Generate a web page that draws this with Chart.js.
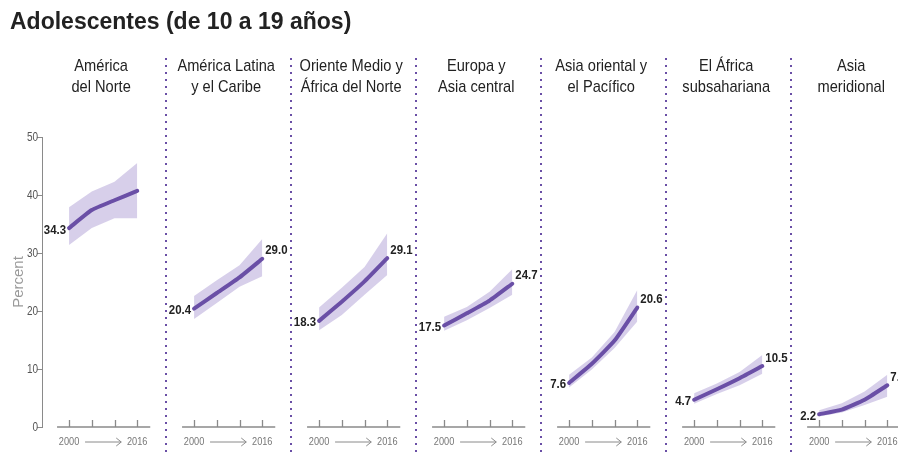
<!DOCTYPE html>
<html>
<head>
<meta charset="utf-8">
<script src="https://cdn.jsdelivr.net/npm/chart.js@4"></script>
<style>
  html, body { margin: 0; padding: 0; background: #fff; }
  #wrap { width: 898px; height: 454px; }
</style>
</head>
<body>
<div id="wrap"><canvas id="chart" width="898" height="454"></canvas></div>
<script>
const chartTitle = "Adolescentes (de 10 a 19 años)";
const regions = [
    "América\ndel Norte",
    "América Latina\ny el Caribe",
    "Oriente Medio y\nÁfrica del Norte",
    "Europa y\nAsia central",
    "Asia oriental y\nel Pacífico",
    "El África\nsubsahariana",
    "Asia\nmeridional"
];
const yearLabels = ["2000", "2016"];
const yTicks = [0, 10, 20, 30, 40, 50];

// 4 points per region, 2000 -> 2016
const rate = [
    [34.3, 37.4, 39.1, 40.7],
    [20.4, 23.1, 25.8, 29.0],
    [18.3, 21.6, 25.1, 29.1],
    [17.5, 19.6, 21.8, 24.7],
    [7.6, 10.9, 14.9, 20.6],
    [4.7, 6.5, 8.4, 10.5],
    [2.2, 3.0, 4.7, 7.2]
];
const upper = [
    [37.9, 40.6, 42.3, 45.5],
    [22.6, 25.3, 27.9, 32.4],
    [20.6, 24.0, 27.6, 33.4],
    [19.0, 20.7, 23.3, 27.2],
    [9.0, 12.0, 16.4, 23.6],
    [5.8, 7.5, 9.5, 12.4],
    [2.9, 4.1, 6.1, 9.0]
];
const lower = [
    [31.4, 34.3, 36.0, 36.0],
    [18.6, 21.4, 24.2, 26.0],
    [16.7, 19.3, 22.8, 26.2],
    [16.6, 18.4, 20.5, 22.8],
    [6.8, 9.9, 13.6, 18.2],
    [4.0, 5.7, 7.2, 9.2],
    [1.8, 2.5, 3.8, 5.2]
];
const showEndLabel = [false, true, true, true, true, true, true];

const SANS = '"Liberation Sans", Arial, sans-serif';
const PURPLE = "#6a4fa6";
const BAND = "rgba(150,130,200,0.38)";
const GREY = "#8a8a8a";

const panelStep = 5.5;           // x units between panels
const xMin = -1.19, xMax = 36.47;

const toPoints = (vals, p) => vals.map((v, i) => ({ x: p * panelStep + i, y: v }));

// no narrow font installed, so squeeze the text horizontally
function narrowText(ctx, text, x, y, sx) {
    ctx.save();
    ctx.translate(x, y);
    ctx.scale(sx, 1);
    ctx.fillText(text, 0, 0);
    ctx.restore();
}

const datasets = [];
regions.forEach((_, p) => {
    datasets.push({
        data: toPoints(upper[p], p), fill: "+1", backgroundColor: BAND,
        borderWidth: 0, pointRadius: 0, tension: 0, order: 2
    });
    datasets.push({
        data: toPoints(lower[p], p), fill: false,
        borderWidth: 0, pointRadius: 0, tension: 0, order: 2
    });
    datasets.push({
        data: toPoints(rate[p], p), fill: false, borderColor: PURPLE,
        borderWidth: 4, borderCapStyle: "round", pointRadius: 0,
        tension: 0.15, order: 0
    });
});

const decor = {
    id: "decor",
    beforeDatasetsDraw(chart) {
        const { ctx, scales: { x, y } } = chart;
        ctx.save();
        // dotted separators
        ctx.strokeStyle = PURPLE;
        ctx.lineWidth = 2;
        ctx.setLineDash([2, 5]);
        for (let p = 0; p < regions.length - 1; p++) {
            const sx = Math.round(x.getPixelForValue(p * panelStep + 4.25));
            ctx.beginPath();
            ctx.moveTo(sx, 58);
            ctx.lineTo(sx, 454);
            ctx.stroke();
        }
        ctx.setLineDash([]);

        // y tick labels
        ctx.fillStyle = "#555";
        ctx.font = "13.5px " + SANS;
        ctx.textAlign = "right";
        ctx.textBaseline = "middle";
        y.ticks.forEach((t) => narrowText(ctx, String(t.value), x.left - 4, y.getPixelForValue(t.value), 0.74));

        // per-panel x baseline, ticks and year arrow
        const base = y.getPixelForValue(0);
        regions.forEach((_, p) => {
            const x0 = x.getPixelForValue(p * panelStep);
            const x3 = x.getPixelForValue(p * panelStep + 3);
            ctx.strokeStyle = GREY;
            ctx.lineWidth = 1.3;
            ctx.beginPath();
            ctx.moveTo(x0 - 12, base);
            ctx.lineTo(x3 + 13, base);
            for (let i = 0; i < 4; i++) {
                const tx = Math.round(x.getPixelForValue(p * panelStep + i)) + 0.5;
                ctx.moveTo(tx, base);
                ctx.lineTo(tx, base - 7);
            }
            ctx.stroke();

            ctx.fillStyle = "#777";
            ctx.font = "11.5px " + SANS;
            ctx.textBaseline = "middle";
            ctx.textAlign = "center";
            narrowText(ctx, yearLabels[0], x0, base + 15, 0.8);
            narrowText(ctx, yearLabels[1], x3, base + 15, 0.8);
            const a0 = x0 + 16, a1 = x3 - 16, ay = base + 15;
            ctx.lineWidth = 1;
            ctx.beginPath();
            ctx.moveTo(a0, ay);
            ctx.lineTo(a1, ay);
            ctx.moveTo(a1 - 5, ay - 4);
            ctx.lineTo(a1, ay);
            ctx.lineTo(a1 - 5, ay + 4);
            ctx.stroke();
        });
        ctx.restore();
    },
    afterDatasetsDraw(chart) {
        const { ctx, scales: { x, y } } = chart;
        ctx.save();
        // title
        ctx.fillStyle = "#222";
        ctx.font = "bold 23px " + SANS;
        ctx.textAlign = "left";
        ctx.textBaseline = "alphabetic";
        ctx.fillText(chartTitle, 10, 29);

        // region headings
        ctx.font = "17px " + SANS;
        ctx.textAlign = "center";
        ctx.textBaseline = "middle";
        regions.forEach((name, p) => {
            const cx = x.getPixelForValue(p * panelStep + 1.5) - 2;
            name.split("\n").forEach((line, k) => narrowText(ctx, line, cx, 66 + k * 21, 0.86));
        });

        // start and end values
        ctx.font = "bold 13px " + SANS;
        regions.forEach((_, p) => {
            const first = rate[p][0], last = rate[p][3];
            ctx.textAlign = "right";
            narrowText(ctx, first.toFixed(1), x.getPixelForValue(p * panelStep) - 3, y.getPixelForValue(first) + 2, 0.88);
            if (showEndLabel[p]) {
                ctx.textAlign = "left";
                narrowText(ctx, last.toFixed(1), x.getPixelForValue(p * panelStep + 3) + 3, y.getPixelForValue(last) - 8, 0.88);
            }
        });
        ctx.restore();
    }
};

new Chart(document.getElementById("chart"), {
    type: "line",
    data: { datasets },
    options: {
        responsive: false,
        animation: false,
        layout: { autoPadding: false, padding: { top: 137, bottom: 27, left: 0, right: 0 } },
        plugins: { legend: { display: false }, tooltip: { enabled: false }, title: { display: false } },
        scales: {
            x: { type: "linear", display: false, min: xMin, max: xMax },
            y: {
                min: 0, max: 50,
                afterBuildTicks: (s) => { s.ticks = yTicks.map((v) => ({ value: v })); },
                afterFit: (s) => { s.width = 42; },
                border: { color: GREY, width: 1 },
                grid: { drawOnChartArea: false, drawTicks: true, tickLength: 5, color: GREY },
                ticks: { display: false },
                title: {
                    display: true, text: "Percent", color: "#9a9a9a",
                    font: { family: SANS, size: 15 },
                    padding: { top: 10, bottom: 0 }
                }
            }
        }
    },
    plugins: [decor]
});
</script>
</body>
</html>
